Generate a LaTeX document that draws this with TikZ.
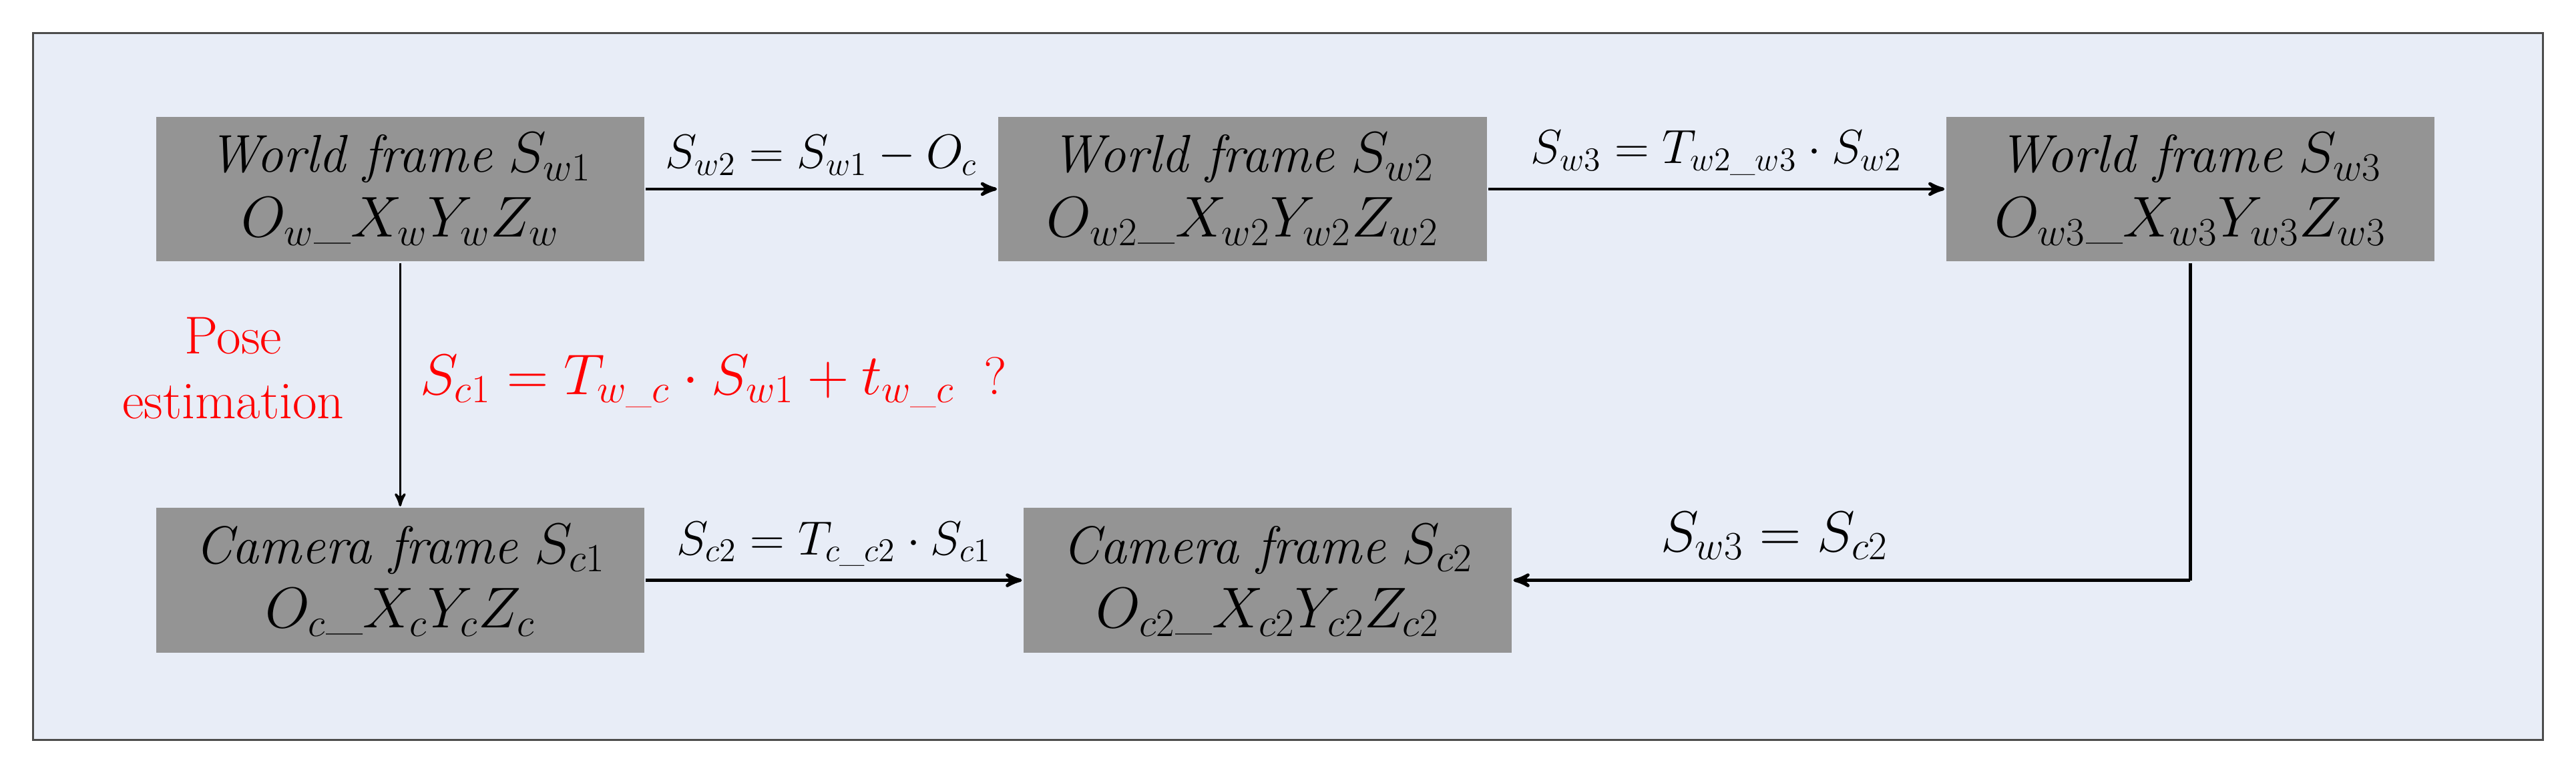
\documentclass[tikz,border=0pt]{standalone}
\usepackage{amsmath}
\usepackage{tikz}
\usetikzlibrary{arrows,positioning}
\definecolor{bgblue}{rgb}{0.91,0.93,0.97}

\begin{document}
\begin{tikzpicture}[->,>=stealth',line width=1.4pt,font=\fontsize{23}{28}\selectfont]
		\tikzstyle{frame}=[fill=black!42,draw=none,text=black,minimum width=7.43cm,
			minimum height=2.2cm,align=center,inner sep=0pt]
		\tikzstyle{lbl}=[above=2pt,text=black,font=\fontsize{21}{25}\selectfont]
		\useasboundingbox (0,0) rectangle (39.2,-11.725);
		\fill[fill=bgblue,draw=black!70,line width=0.8pt] (0.5,-0.5) rectangle (38.7,-11.25);
		\node[frame] (W1) at (6.09,-2.875)  {\textit{World frame} $S_{w1}$\\$O_{w}\_X_{w}Y_{w}Z_{w}$};
		\node[frame] (W2) at (18.91,-2.875) {\textit{World frame} $S_{w2}$\\$O_{w2}\_X_{w2}Y_{w2}Z_{w2}$};
		\node[frame] (W3) at (33.33,-2.875) {\textit{World frame} $S_{w3}$\\$O_{w3}\_X_{w3}Y_{w3}Z_{w3}$};
		\node[frame] (C1) at (6.09,-8.825)  {\textit{Camera frame} $S_{c1}$\\$O_{c}\_X_{c}Y_{c}Z_{c}$};
		\node[frame] (C2) at (19.29,-8.825) {\textit{Camera frame} $S_{c2}$\\$O_{c2}\_X_{c2}Y_{c2}Z_{c2}$};
		\coordinate (K) at (W3.south |- C2);
		\node[red,align=center] (P) at (3.55,-5.6) {Pose\\estimation};
		\node[red,anchor=west] (F) at (6.25,-5.8) {$S_{c1}=T_{w\_c}\cdot S_{w1}+t_{w\_c}$\;\;?};
		\node (L) at (27,-8.15) {$S_{w3}=S_{c2}$};
		\path (W1) edge node[lbl] {$S_{w2}=S_{w1}-O_{c}$} (W2)
		      (W2) edge node[lbl] {$S_{w3}=T_{w2\_w3}\cdot S_{w2}$} (W3)
		      (C1) edge node[lbl] {$S_{c2}=T_{c\_c2}\cdot S_{c1}$} (C2)
		      (W1) edge[line width=1pt] (C1);
		\draw[-] (W3.south) -- (K);
		\draw (K) -- (C2);
\end{tikzpicture}
\end{document}
